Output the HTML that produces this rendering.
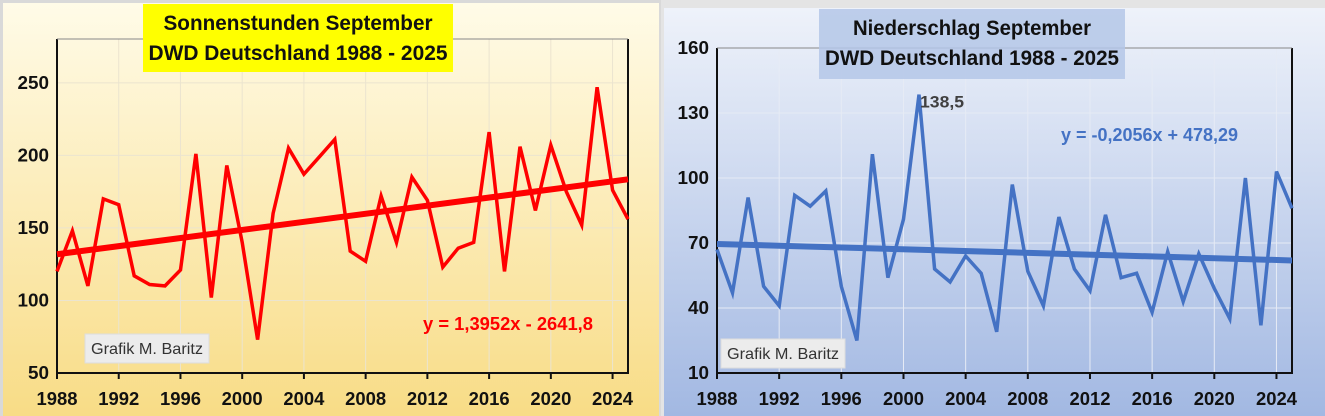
<!DOCTYPE html>
<html><head><meta charset="utf-8"><style>
html,body{margin:0;padding:0;background:#fff;}
svg{display:block;font-family:"Liberation Sans Narrow","Liberation Sans",sans-serif;}
</style></head><body>
<svg id="svg" width="1325" height="416" viewBox="0 0 1325 416" xmlns="http://www.w3.org/2000/svg">
<defs>
<linearGradient id="gY" x1="0" y1="0" x2="0" y2="1"><stop offset="0" stop-color="#fffbe8"/><stop offset="1" stop-color="#f8dc86"/></linearGradient>
<linearGradient id="gB" x1="0" y1="0" x2="0" y2="1"><stop offset="0" stop-color="#eef2fa"/><stop offset="1" stop-color="#a2b8e2"/></linearGradient>
</defs>
<rect x="0" y="0" width="661" height="416" fill="#d9d9d9"/>
<rect x="3" y="3" width="656" height="413" fill="url(#gY)"/>
<rect x="661" y="0" width="664" height="416" fill="#e4e4e4"/>
<rect x="664" y="8" width="661" height="408" fill="url(#gB)"/>
<g id="L"></g><g id="R"></g>
</svg>
<script>
const years = [];
for (let y = 1988; y <= 2025; y++) years.push(y);
const sunValues = [120,148,110,170,166,117,111,110,121,201,102,193,140,73,160,205,187,199,211,134,127,172,140,185,169,123,136,140,216,120,206,162,207,175,152,247,176,156];
const rainValues = [67,47,91,50,41,92,87,94,50,25,111,54,81,138.5,58,52,64,56,29,97,57,41,82,58,48,83,54,56,38,66,43,65,49,35,100,32,103,86];
const sunTicks = [50,100,150,200,250];
const rainTicks = [10,40,70,100,130,160];
const xTicks = [1988,1992,1996,2000,2004,2008,2012,2016,2020,2024];
const sunTrend = [1.3952, -2641.8];
const rainTrend = [-0.2056, 478.29];
const NS = 'http://www.w3.org/2000/svg';
function mk(parent, tag, attrs, txt) {
  const e = document.createElementNS(NS, tag);
  for (const k in attrs) e.setAttribute(k, attrs[k]);
  if (txt !== undefined) e.textContent = txt;
  parent.appendChild(e);
  return e;
}
function chart(g, cfg) {
  const xS = v => cfg.x0 + (v - 1988) * (cfg.x1 - cfg.x0) / 37;
  const yS = v => cfg.yb - (v - cfg.ymin) * (cfg.yb - cfg.yt) / (cfg.ymax - cfg.ymin);
  cfg.ticks.forEach(t => {
    const l = mk(g, 'line', {x1: cfg.x0, x2: cfg.x1, y1: yS(t), y2: yS(t), stroke: cfg.grid, 'stroke-width': 1});
    
    
    const tx = mk(g, 'text', {x: cfg.x0 - 8, y: yS(t) + 6, 'text-anchor': 'end', 'font-size': 18, 'font-weight': 'bold', fill: '#111', textLength: String(t).length * 10.5, lengthAdjust: 'spacingAndGlyphs'}, String(t));
    
    
  });
  xTicks.forEach(t => {
    const l = mk(g, 'line', {x1: xS(t), x2: xS(t), y1: cfg.yt, y2: cfg.yb, stroke: cfg.grid, 'stroke-width': 1});
    
    
    const tk = mk(g, 'line', {x1: xS(t), x2: xS(t), y1: cfg.yb, y2: cfg.yb + 6, stroke: '#111', 'stroke-width': 2});
    
    
    const tx = mk(g, 'text', {x: xS(t), y: cfg.yb + 32, 'text-anchor': 'middle', 'font-size': 18, 'font-weight': 'bold', fill: '#111', textLength: 41, lengthAdjust: 'spacingAndGlyphs'}, String(t));
    
    
  });
  const ax = mk(g, 'path', {d: `M${cfg.x0},${cfg.yt} V${cfg.yb} H${cfg.x1} V${cfg.yt}`, fill: 'none', stroke: '#111', 'stroke-width': 2});
  
  
  const top = mk(g, 'line', {x1: cfg.x0, x2: cfg.x1, y1: cfg.yt, y2: cfg.yt, stroke: '#888', 'stroke-width': 1});
  
  
  const tb = mk(g, 'rect', {x: cfg.tb[0], y: cfg.tb[1], width: cfg.tb[2], height: cfg.tb[3], fill: cfg.tfill});
  
  
  const cx = cfg.tb[0] + cfg.tb[2] / 2;
  const t1 = mk(g, 'text', {x: cx, y: cfg.tb[1] + 26, 'text-anchor': 'middle', 'font-size': 21, 'font-weight': 'bold', fill: '#111', textLength: cfg.tl[0], lengthAdjust: 'spacingAndGlyphs'}, cfg.title1);
  
  
  const t2 = mk(g, 'text', {x: cx, y: cfg.tb[1] + 56, 'text-anchor': 'middle', 'font-size': 21, 'font-weight': 'bold', fill: '#111', textLength: cfg.tl[1], lengthAdjust: 'spacingAndGlyphs'}, 'DWD Deutschland 1988 - 2025');
  
  
  const d = cfg.vals.map((v, i) => (i ? 'L' : 'M') + xS(years[i]).toFixed(1) + ',' + yS(v).toFixed(1)).join(' ');
  const ln = mk(g, 'path', {d, fill: 'none', stroke: cfg.color, 'stroke-width': 3.5, 'stroke-linejoin': 'miter'});
  
  
  const tr = v => cfg.trend[0] * v + cfg.trend[1];
  const tl = mk(g, 'line', {x1: xS(1988), y1: yS(tr(1988)), x2: xS(2025), y2: yS(tr(2025)), stroke: cfg.color, 'stroke-width': 6});
  
  
  const eq = mk(g, 'text', {x: cfg.eq[0], y: cfg.eq[1], 'font-size': 18, 'font-weight': 'bold', fill: cfg.color, textLength: cfg.eq[2], lengthAdjust: 'spacingAndGlyphs'}, cfg.eqText);
  
  
  const cb = mk(g, 'rect', {x: cfg.cr[0], y: cfg.cr[1], width: 124, height: 29, fill: '#ececec', stroke: '#ddd'});
  
  
  const ct = mk(g, 'text', {x: cfg.cr[0] + 62, y: cfg.cr[1] + 20, 'text-anchor': 'middle', 'font-size': 16, fill: '#333', textLength: 112, lengthAdjust: 'spacingAndGlyphs'}, 'Grafik M. Baritz');
  
  
  return {xS, yS};
}
chart(document.getElementById('L'), {x0: 57, x1: 628, yt: 39, yb: 373, ymin: 50, ymax: 280.2, ticks: sunTicks, vals: sunValues, color: '#ff0000', trend: sunTrend, grid: '#ebe4cf',
  tb: [143, 4, 310, 68], tl: [269, 299], tfill: '#ffff00', title1: 'Sonnenstunden September', eq: [423, 330, 170], eqText: 'y = 1,3952x - 2641,8', cr: [85, 334]});
const r = chart(document.getElementById('R'), {x0: 717, x1: 1292, yt: 48, yb: 373, ymin: 10, ymax: 160, ticks: rainTicks, vals: rainValues, color: '#4472c4', trend: rainTrend, grid: '#e6ebf5',
  tb: [819, 9, 306, 70], tl: [238, 294], tfill: 'rgba(180,199,231,0.85)', title1: 'Niederschlag September', eq: [1061, 141, 177], eqText: 'y = -0,2056x + 478,29', cr: [721, 339]});
const mi = rainValues.indexOf(Math.max(...rainValues));
const lab = document.createElementNS(NS, 'text');
lab.setAttribute('x', r.xS(years[mi]) + 1);
lab.setAttribute('y', r.yS(rainValues[mi]) + 13);
lab.setAttribute('font-size', 17);
lab.setAttribute('font-weight', 'bold');
lab.setAttribute('fill', '#404040');
lab.setAttribute('textLength', 44);
lab.setAttribute('lengthAdjust', 'spacingAndGlyphs');
lab.textContent = '138,5';


document.getElementById('R').appendChild(lab);
</script>
</body></html>
